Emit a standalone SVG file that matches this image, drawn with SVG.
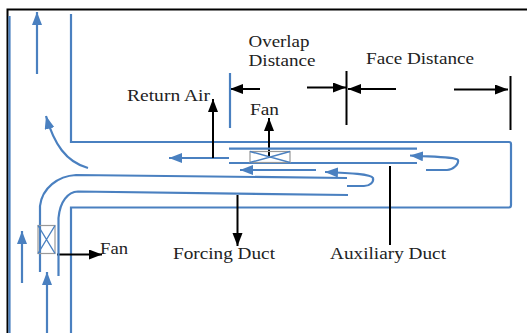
<svg xmlns="http://www.w3.org/2000/svg" width="527" height="333" viewBox="0 0 527 333">
<style>
.b{fill:none;stroke:#4a80c0;stroke-width:2.2}
.k{fill:none;stroke:#000;stroke-width:2}
.bg{fill:none;stroke:#4a80c0;stroke-width:2.2;marker-end:url(#ab)}
.kk{fill:none;stroke:#000;stroke-width:2;marker-end:url(#ak)}
.fan{fill:none;stroke:#999;stroke-width:1.2}
.x{fill:none;stroke:#4a80c0;stroke-width:1.4}
text{font-family:"Liberation Serif",serif;font-size:17px;fill:#222}
</style>
<defs>
<marker id="ab" markerUnits="userSpaceOnUse" markerWidth="14" markerHeight="12" refX="13" refY="5" orient="auto"><path d="M0 0L13 5L0 10Z" fill="#4a80c0"/></marker>
<marker id="ak" markerUnits="userSpaceOnUse" markerWidth="14" markerHeight="12" refX="13" refY="5" orient="auto"><path d="M0 0L13 5L0 10Z" fill="#000"/></marker>
</defs>
<rect width="527" height="333" fill="#fff"/>
<path d="M7.500 333V9.500H527" fill="none" stroke="#000" stroke-width="2"/>
<g id="walls">
<path class="b" d="M9.500 16V333"/>
<path class="b" d="M71 14V142H509Q511 142 511 144V205Q511 207.500 509 207.500H71V333"/>
</g>
<g id="connectors">
<path class="bg" d="M37 74V12"/>
<path class="bg" d="M88 168C66 162 54 144 46 116"/>
<path class="bg" d="M229 158H169"/>
<path class="bg" d="M316 170H240"/>
<path class="bg" d="M347 186H364C370 186 374 182 373 178C371 174 350 173 325 172"/>
<path class="bg" d="M426 170H447C453 170 459 164 458 160C456 157 435 157 410 155.500"/>
<path class="bg" d="M22 283V231"/>
<path class="bg" d="M47 333V272"/>
<path class="kk" d="M213 158V99"/>
<path class="kk" d="M269 157V118"/>
<path class="kk" d="M237.500 195V246"/>
<path class="k" d="M390 166V245"/>
<path class="kk" d="M57 254.500H102"/>
<path class="kk" d="M260 89H230"/>
<path class="kk" d="M307 87.500H346"/>
<path class="kk" d="M396 89H348"/>
<path class="kk" d="M454 89.500H508"/>
</g>
<g id="dimension-ticks">
<path class="b" d="M230 73V128"/>
<path class="k" d="M346.500 71V125"/>
<path class="k" d="M510.500 76V130"/>
</g>
<g id="forcing-duct">
<path class="b" d="M40 272V206C42 188 58 176 76 175L347 178"/>
<path class="b" d="M58.500 276V218C60 201 68 192 78 191.500L348 195"/>
</g>
<g id="auxiliary-duct">
<path class="b" d="M229 148.700H417"/>
<path class="b" d="M229 163H417"/>
</g>
<g id="fan-aux">
<rect class="fan" x="250" y="151.500" width="40" height="11"/>
<path class="x" d="M250 151.500L290 162.500M290 151.500L250 162.500"/>
</g>
<g id="fan-forcing">
<rect class="fan" x="38" y="225.500" width="17" height="28"/>
<path class="x" d="M38 225.500L55 253.500M55 225.500L38 253.500"/>
</g>
<g id="labels">
<text x="248.500" y="46.500" textLength="61" lengthAdjust="spacingAndGlyphs">Overlap</text>
<text x="248.500" y="66" textLength="67" lengthAdjust="spacingAndGlyphs">Distance</text>
<text x="366" y="64" textLength="108" lengthAdjust="spacingAndGlyphs">Face Distance</text>
<text x="127" y="100.500" textLength="83" lengthAdjust="spacingAndGlyphs">Return Air</text>
<text x="250" y="115" textLength="29" lengthAdjust="spacingAndGlyphs">Fan</text>
<text x="100" y="254" textLength="28" lengthAdjust="spacingAndGlyphs">Fan</text>
<text x="173" y="259" textLength="102" lengthAdjust="spacingAndGlyphs">Forcing Duct</text>
<text x="330" y="258.500" textLength="116" lengthAdjust="spacingAndGlyphs">Auxiliary Duct</text>
</g>
</svg>
